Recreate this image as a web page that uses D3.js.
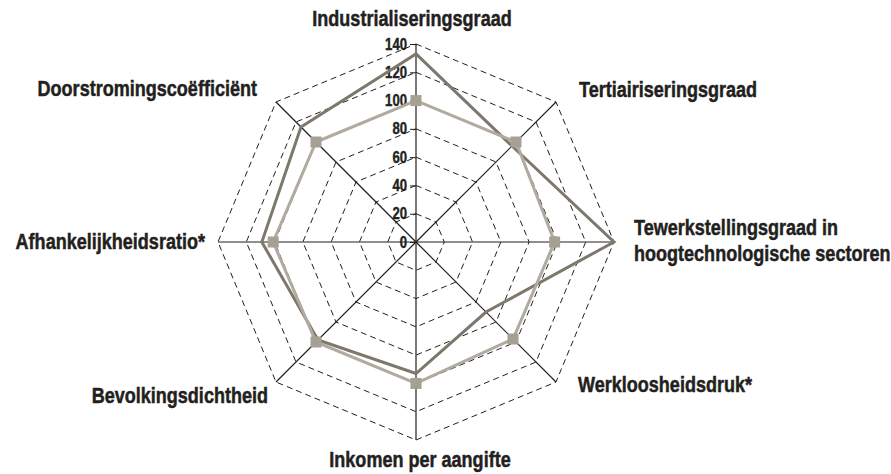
<!DOCTYPE html>
<html>
<head>
<meta charset="utf-8">
<script src="https://cdn.jsdelivr.net/npm/d3@7"></script>
<style>
    body { margin: 0; background: #fff; }
    .label { font-family: "Liberation Sans Narrow", "Liberation Sans", Arial, sans-serif; font-weight: bold; font-size: 22px; fill: #231f20; stroke: #231f20; stroke-width: 0.5px; }
    .tick-label { font-family: "Liberation Sans Narrow", "Liberation Sans", Arial, sans-serif; font-weight: bold; font-size: 16px; fill: #231f20; stroke: #231f20; stroke-width: 0.4px; }
</style>
</head>
<body>
<div id="radar"></div>
<script>
// axes, clockwise starting at the top
var axisNames = ["Industrialiseringsgraad", "Tertiairiseringsgraad",
    "Tewerkstellingsgraad in hoogtechnologische sectoren", "Werkloosheidsdruk*",
    "Inkomen per aangifte", "Bevolkingsdichtheid", "Afhankelijkheidsratio*",
    "Doorstromingscoëfficiënt"];

// region (dark line) and reference (light line with squares)
var regionValues = [133, 96, 140, 70, 93, 98, 109, 115];
var referenceValues = [100, 100, 98, 97, 100, 100, 101, 100];

var tickValues = [0, 20, 40, 60, 80, 100, 120, 140];

RadarChart = function (_parentElement) {
    this.parentElement = _parentElement;
    this.initVis();
};

RadarChart.prototype.initVis = function () {
    var vis = this;

    vis.width = 891;
    vis.height = 474;
    vis.cx = 416;
    vis.cy = 242;
    // no narrow font installed: squeeze the regular one to narrow width
    vis.squeeze = "scale(0.82,1)";

    vis.svg = d3.select("#" + vis.parentElement).append("svg")
        .attr("width", vis.width)
        .attr("height", vis.height)
        .append("g")
        .attr("transform", "translate(" + vis.cx + "," + vis.cy + ")");

    vis.r = d3.scaleLinear()
        .domain([0, 140])
        .range([0, 198]);

    vis.angle = d3.scalePoint()
        .domain(d3.range(axisNames.length + 1))
        .range([0, 2 * Math.PI]);

    // point on axis i at value v
    vis.pt = function (i, v) {
        var a = vis.angle(i);
        return [vis.r(v) * Math.sin(a), -vis.r(v) * Math.cos(a)];
    };

    // dashed octagons
    vis.svg.selectAll(".grid")
        .data(tickValues.slice(1))
        .enter()
        .append("path")
        .attr("class", "grid")
        .attr("d", function (t) {
            return d3.line()(axisNames.map(function (n, i) { return vis.pt(i, t); })) + "Z";
        })
        .style("fill", "none")
        .style("stroke", "#231f20")
        .style("stroke-width", 1)
        .style("stroke-dasharray", "6,4");

    // axes
    vis.svg.selectAll(".axis-line")
        .data(axisNames)
        .enter()
        .append("line")
        .attr("class", "axis-line")
        .attr("x1", 0).attr("y1", 0)
        .attr("x2", function (d, i) { return vis.pt(i, 140)[0]; })
        .attr("y2", function (d, i) { return vis.pt(i, 140)[1]; })
        .style("stroke", "#231f20")
        .style("stroke-width", 1.2);

    // scale on the vertical axis
    vis.yAxis = d3.axisLeft()
        .scale(d3.scaleLinear().domain([0, 140]).range([0, -198]))
        .tickValues(tickValues)
        .tickSize(6)
        .tickPadding(3);

    vis.svg.append("g")
        .attr("class", "y-axis")
        .call(vis.yAxis)
        .call(function (g) { g.select(".domain").remove(); })
        .call(function (g) {
            g.selectAll(".tick line").style("stroke", "#231f20");
            g.selectAll(".tick text")
                .attr("class", "tick-label")
                .attr("x", 0)
                .attr("transform", "translate(-9,0) " + vis.squeeze);
        });
    vis.svg.select(".y-axis").attr("font-family", null).attr("font-size", null);

    var line = d3.line();

    vis.svg.append("path")
        .datum(regionValues.map(function (v, i) { return vis.pt(i, v); }))
        .attr("d", function (d) { return line(d) + "Z"; })
        .style("fill", "none")
        .style("stroke", "#7d786c")
        .style("stroke-width", 3);

    vis.svg.append("path")
        .datum(referenceValues.map(function (v, i) { return vis.pt(i, v); }))
        .attr("d", function (d) { return line(d) + "Z"; })
        .style("fill", "none")
        .style("stroke", "#b0aaa0")
        .style("stroke-width", 3);

    vis.svg.selectAll(".marker")
        .data(referenceValues)
        .enter()
        .append("rect")
        .attr("class", "marker")
        .attr("width", 11)
        .attr("height", 11)
        .attr("x", function (d, i) { return vis.pt(i, d)[0] - 5.5; })
        .attr("y", function (d, i) { return vis.pt(i, d)[1] - 5.5; })
        .style("fill", "#a69f94");

    // axis titles
    var labelLayout = [
        {x: -4, y: -216, anchor: "middle"},
        {x: 163, y: -145, anchor: "start"},
        {x: 218, y: -7, anchor: "start"},
        {x: 162, y: 150, anchor: "start"},
        {x: 4, y: 225, anchor: "middle"},
        {x: -148, y: 161, anchor: "end"},
        {x: -211, y: 7, anchor: "end"},
        {x: -159, y: -146, anchor: "end"}
    ];

    vis.svg.selectAll(".label")
        .data(axisNames)
        .enter()
        .append("text")
        .attr("class", "label")
        .attr("transform", function (d, i) {
            return "translate(" + labelLayout[i].x + "," + labelLayout[i].y + ") " + vis.squeeze;
        })
        .style("text-anchor", function (d, i) { return labelLayout[i].anchor; })
        .each(function (d) {
            var parts = d === axisNames[2] ? ["Tewerkstellingsgraad in", "hoogtechnologische sectoren"] : [d];
            var el = d3.select(this);
            parts.forEach(function (p, k) {
                el.append("tspan")
                    .attr("x", 0)
                    .attr("dy", k === 0 ? 0 : 26)
                    .text(p);
            });
        });
};

new RadarChart("radar");
</script>
</body>
</html>
